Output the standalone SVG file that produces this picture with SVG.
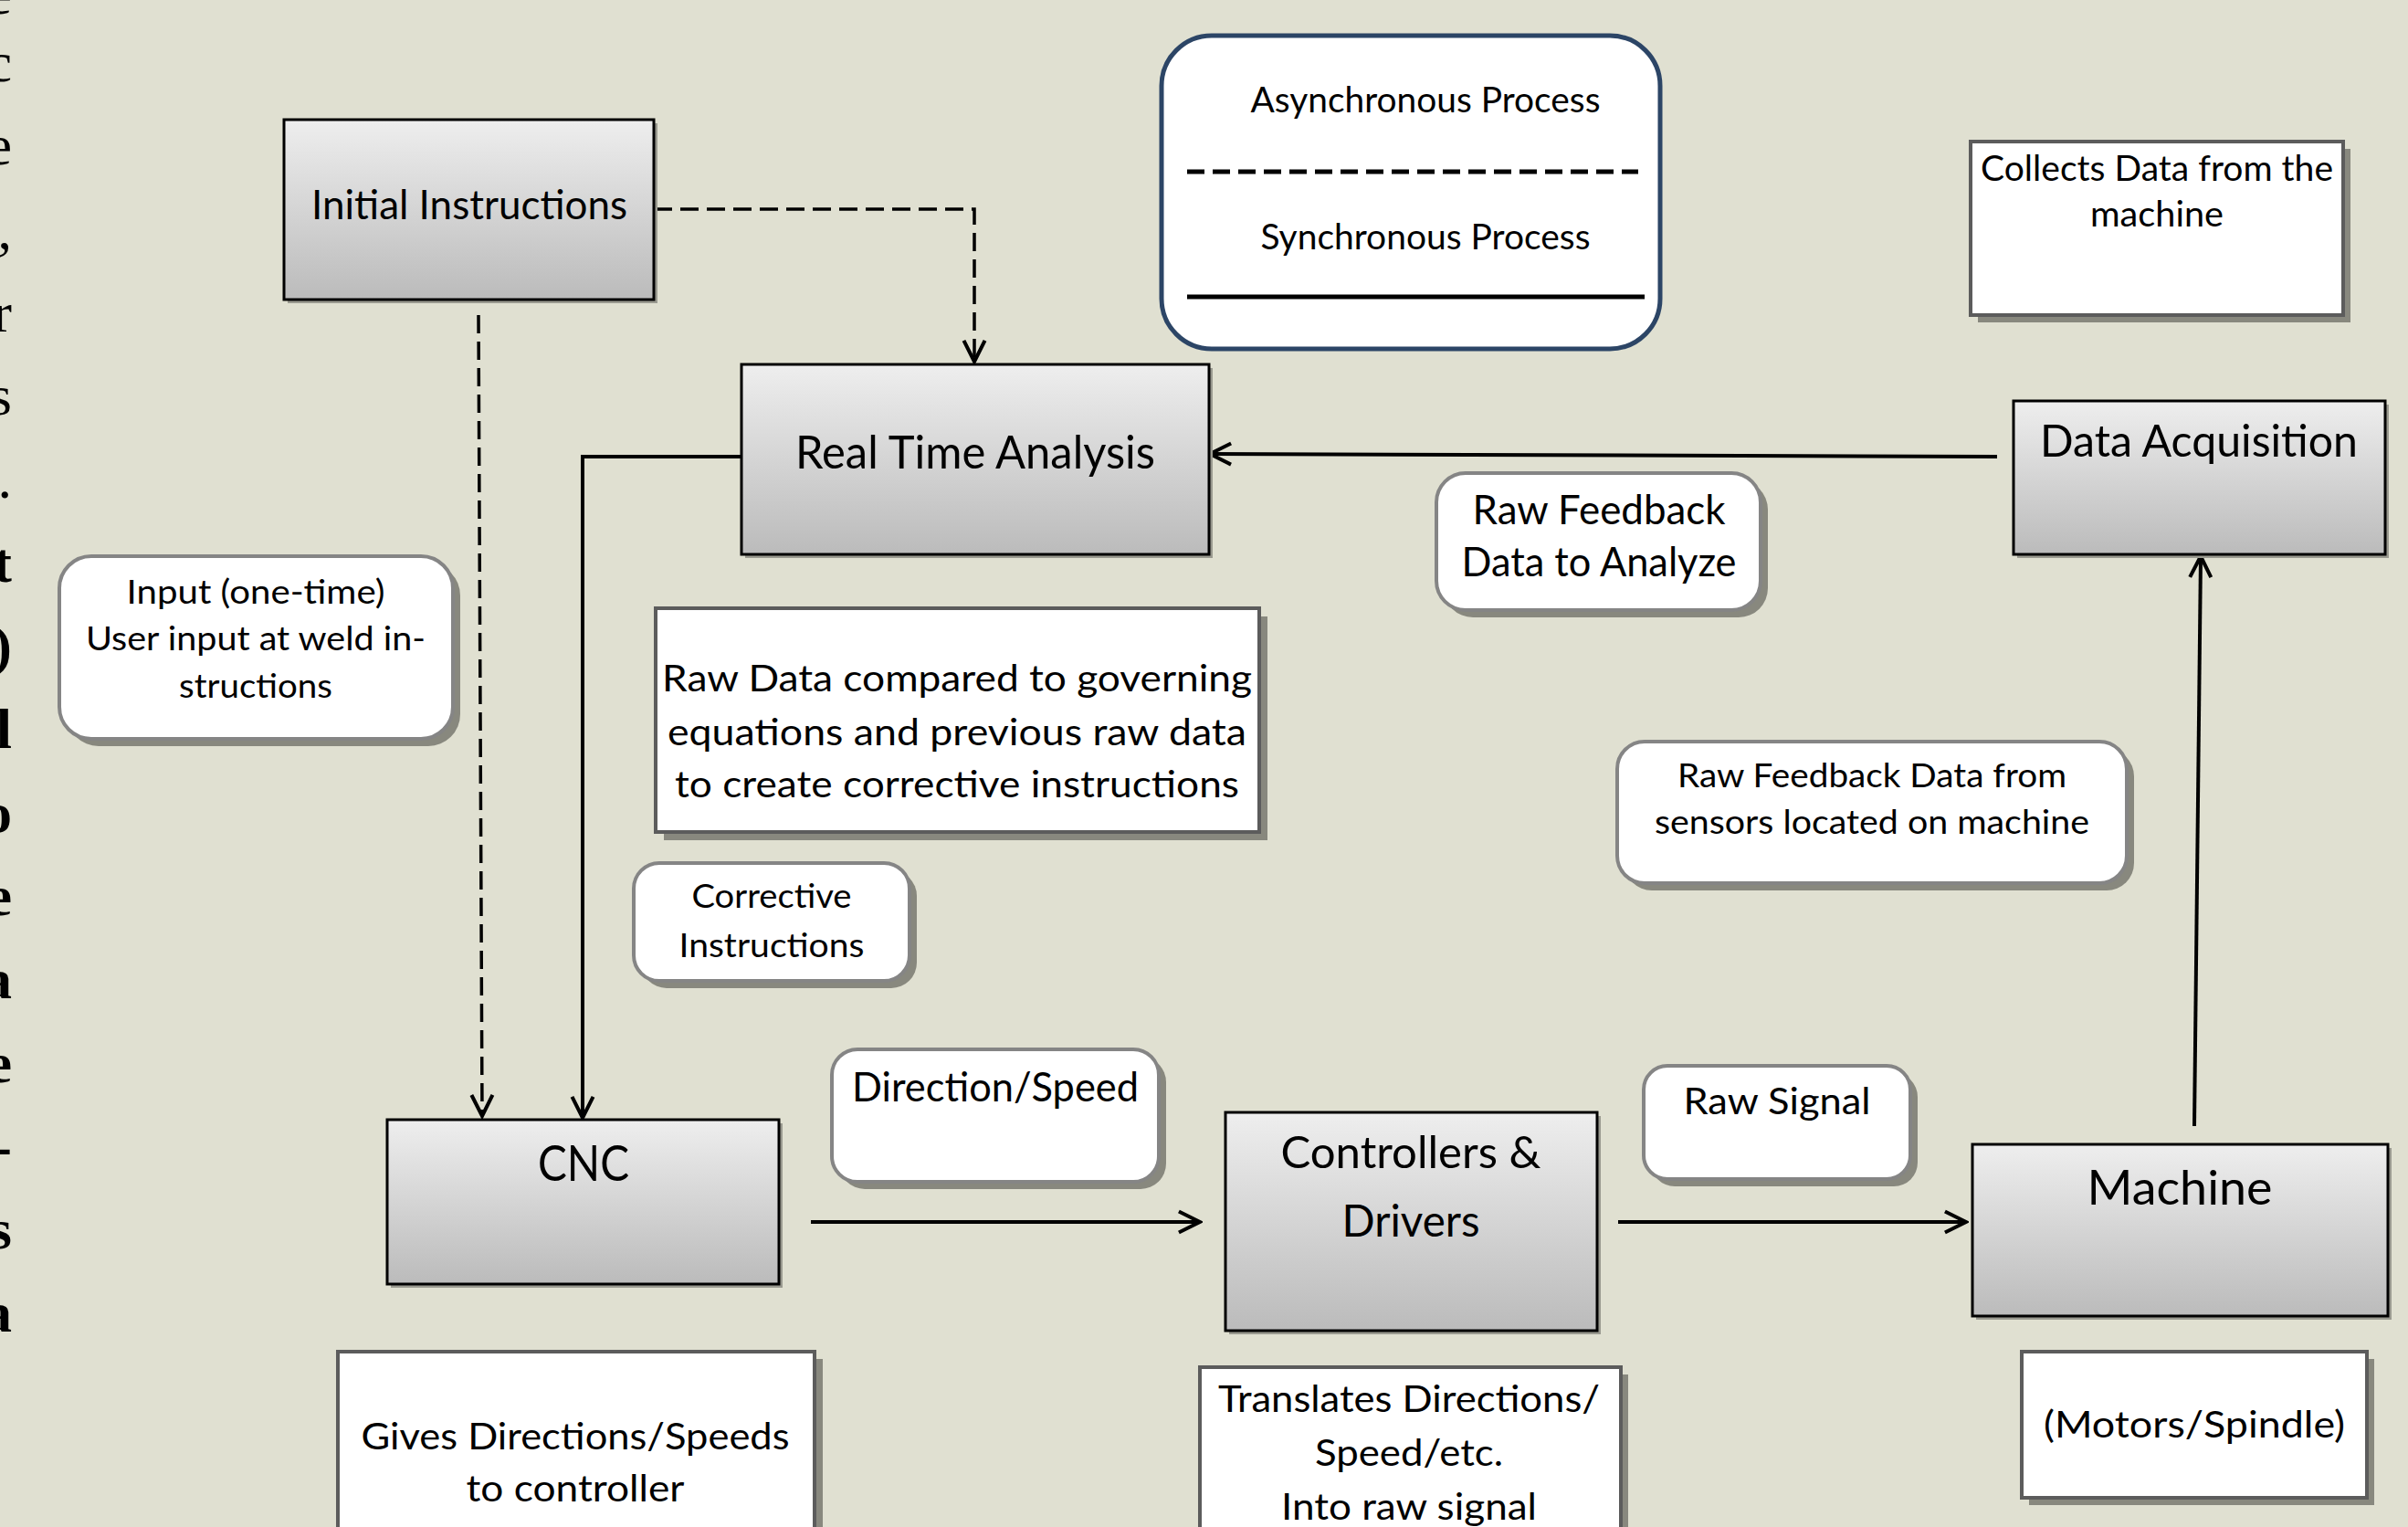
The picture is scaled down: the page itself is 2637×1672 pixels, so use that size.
<svg xmlns="http://www.w3.org/2000/svg" width="2637" height="1672" viewBox="0 0 2637 1672">
<defs>
<linearGradient id="grad" x1="0" y1="0" x2="0" y2="1">
<stop offset="0" stop-color="#eeeeee"/>
<stop offset="1" stop-color="#bbbbbb"/>
</linearGradient>
<marker id="arr" markerUnits="userSpaceOnUse" markerWidth="30" markerHeight="30" viewBox="-2 -2 26 26" refX="21" refY="11" orient="auto">
<path d="M1,1 L21,11 L1,21" fill="none" stroke="#000" stroke-width="3.5"/>
</marker>
<style>
.bg{fill:#e0e0d1}
.gb{fill:url(#grad);stroke:#000;stroke-width:3}
.gs{fill:#9a9a90}
.wb{fill:#fff;stroke:#5c5c5c;stroke-width:4}
.ws{fill:#88887e}
.rb{fill:#fff;stroke:#858585;stroke-width:4}
.t{font-family:Lato,"Liberation Sans",sans-serif;text-anchor:middle;fill:#000}
.edge{font-family:"Liberation Serif",serif;font-size:62px;text-anchor:end;fill:#000}
.c{fill:none;stroke:#000;stroke-width:4}
.d{fill:none;stroke:#000;stroke-width:3.5;stroke-dasharray:20 9}
</style>
</defs>
<rect class="bg" x="0" y="0" width="2637" height="1672"/>

<g id="page-edge-text">
<text class="edge" x="13" y="15">e</text>
<text class="edge" x="13" y="89">c</text>
<text class="edge" x="13" y="180">e</text>
<text class="edge" x="13" y="272">,</text>
<text class="edge" x="13" y="363">r</text>
<text class="edge" x="13" y="454">s</text>
<text class="edge" x="13" y="545">.</text>
<text class="edge" x="13" y="637" font-weight="bold">t</text>
<text class="edge" x="13" y="728" font-weight="bold">)</text>
<text class="edge" x="13" y="819" font-weight="bold">l</text>
<text class="edge" x="13" y="911" font-weight="bold">o</text>
<text class="edge" x="13" y="1002" font-weight="bold">e</text>
<text class="edge" x="13" y="1093" font-weight="bold">a</text>
<text class="edge" x="13" y="1185" font-weight="bold">e</text>
<text class="edge" x="13" y="1276" font-weight="bold">-</text>
<text class="edge" x="13" y="1367" font-weight="bold">s</text>
<text class="edge" x="13" y="1458" font-weight="bold">a</text>
</g>

<g id="connectors">
<path class="d" d="M716,229 H1067 V396" marker-end="url(#arr)"/>
<path class="d" d="M524,345 L528,1222" marker-end="url(#arr)"/>
<path class="c" d="M812,500 H638 V1224" marker-end="url(#arr)"/>
<path class="c" d="M888,1338 H1314" marker-end="url(#arr)"/>
<path class="c" d="M1772,1338 H2153" marker-end="url(#arr)"/>
<path class="c" d="M2403,1233 L2410,609" marker-end="url(#arr)"/>
<path class="c" d="M2187,500 L1325,497" marker-end="url(#arr)"/>
</g>

<g id="n-initial">
<rect class="gs" x="315" y="135" width="405" height="197"/>
<rect class="gb" x="311" y="131" width="405" height="197"/>
<text class="t" x="514" y="240" font-size="44" textLength="346" lengthAdjust="spacingAndGlyphs">Initial Instructions</text>
</g>

<g id="n-rta">
<rect class="gs" x="816" y="403" width="512" height="208"/>
<rect class="gb" x="812" y="399" width="512" height="208"/>
<text class="t" x="1068" y="513" font-size="50" textLength="394" lengthAdjust="spacingAndGlyphs">Real Time Analysis</text>
</g>

<g id="n-legend">
<rect x="1272" y="39" width="546" height="343" rx="55" ry="55" fill="#fff" stroke="#2c4566" stroke-width="5"/>
<text class="t" x="1561" y="123" font-size="38" textLength="383" lengthAdjust="spacingAndGlyphs">Asynchronous Process</text>
<line x1="1300" y1="188" x2="1794" y2="188" stroke="#000" stroke-width="5" stroke-dasharray="19 9"/>
<text class="t" x="1561" y="273" font-size="38" textLength="361" lengthAdjust="spacingAndGlyphs">Synchronous Process</text>
<line x1="1300" y1="325" x2="1801" y2="325" stroke="#000" stroke-width="5"/>
</g>

<g id="n-collects">
<rect class="ws" x="2166" y="163" width="408" height="190"/>
<rect class="wb" x="2158" y="155" width="408" height="190"/>
<text class="t" x="2362" y="198" font-size="38" textLength="386" lengthAdjust="spacingAndGlyphs">Collects Data from the</text>
<text class="t" x="2362" y="248" font-size="38" textLength="146" lengthAdjust="spacingAndGlyphs">machine</text>
</g>

<g id="n-daq">
<rect class="gs" x="2209" y="443" width="407" height="168"/>
<rect class="gb" x="2205" y="439" width="407" height="168"/>
<text class="t" x="2408" y="500" font-size="48" textLength="348" lengthAdjust="spacingAndGlyphs">Data Acquisition</text>
</g>

<g id="n-rawfb-analyze">
<rect class="ws" x="1581" y="526" width="355" height="150" rx="32"/>
<rect class="rb" x="1573" y="518" width="355" height="150" rx="32"/>
<text class="t" x="1751" y="574" font-size="45" textLength="277" lengthAdjust="spacingAndGlyphs">Raw Feedback</text>
<text class="t" x="1751" y="631" font-size="45" textLength="301" lengthAdjust="spacingAndGlyphs">Data to Analyze</text>
</g>

<g id="n-rawfb-sensors">
<rect class="ws" x="1779" y="820" width="558" height="155" rx="30"/>
<rect class="rb" x="1771" y="812" width="558" height="155" rx="30"/>
<text class="t" x="2050" y="862" font-size="37" textLength="426" lengthAdjust="spacingAndGlyphs">Raw Feedback Data from</text>
<text class="t" x="2050" y="913" font-size="37" textLength="476" lengthAdjust="spacingAndGlyphs">sensors located on machine</text>
</g>

<g id="n-input">
<rect class="ws" x="73" y="617" width="431" height="200" rx="35"/>
<rect class="rb" x="65" y="609" width="431" height="200" rx="35"/>
<text class="t" x="280" y="661" font-size="37" textLength="283" lengthAdjust="spacingAndGlyphs">Input (one-time)</text>
<text class="t" x="280" y="712" font-size="37" textLength="372" lengthAdjust="spacingAndGlyphs">User input at weld in-</text>
<text class="t" x="280" y="764" font-size="37" textLength="168" lengthAdjust="spacingAndGlyphs">structions</text>
</g>

<g id="n-rawdata">
<rect class="ws" x="727" y="675" width="661" height="245"/>
<rect class="wb" x="718" y="666" width="661" height="245"/>
<text class="t" x="1048" y="757" font-size="40" textLength="646" lengthAdjust="spacingAndGlyphs">Raw Data compared to governing</text>
<text class="t" x="1048" y="816" font-size="40" textLength="634" lengthAdjust="spacingAndGlyphs">equations and previous raw data</text>
<text class="t" x="1048" y="873" font-size="40" textLength="618" lengthAdjust="spacingAndGlyphs">to create corrective instructions</text>
</g>

<g id="n-corrective">
<rect class="ws" x="702" y="953" width="302" height="129" rx="28"/>
<rect class="rb" x="694" y="945" width="302" height="129" rx="28"/>
<text class="t" x="845" y="994" font-size="37" textLength="175" lengthAdjust="spacingAndGlyphs">Corrective</text>
<text class="t" x="845" y="1048" font-size="37" textLength="203" lengthAdjust="spacingAndGlyphs">Instructions</text>
</g>

<g id="n-direction">
<rect class="ws" x="919" y="1157" width="358" height="145" rx="28"/>
<rect class="rb" x="911" y="1149" width="358" height="145" rx="28"/>
<text class="t" x="1090" y="1206" font-size="44" textLength="314" lengthAdjust="spacingAndGlyphs">Direction/Speed</text>
</g>

<g id="n-cnc">
<rect class="gs" x="428" y="1230" width="429" height="180"/>
<rect class="gb" x="424" y="1226" width="429" height="180"/>
<text class="t" x="639" y="1293" font-size="55" textLength="100" lengthAdjust="spacingAndGlyphs">CNC</text>
</g>

<g id="n-controllers">
<rect class="gs" x="1346" y="1222" width="407" height="239"/>
<rect class="gb" x="1342" y="1218" width="407" height="239"/>
<text class="t" x="1545" y="1279" font-size="48" textLength="285" lengthAdjust="spacingAndGlyphs">Controllers &amp;</text>
<text class="t" x="1545" y="1354" font-size="48" textLength="151" lengthAdjust="spacingAndGlyphs">Drivers</text>
</g>

<g id="n-gives">
<rect class="ws" x="378" y="1488" width="523" height="200"/>
<rect class="wb" x="370" y="1480" width="522" height="200"/>
<text class="t" x="630" y="1587" font-size="40" textLength="469" lengthAdjust="spacingAndGlyphs">Gives Directions/Speeds</text>
<text class="t" x="630" y="1644" font-size="40" textLength="239" lengthAdjust="spacingAndGlyphs">to controller</text>
</g>

<g id="n-translates">
<rect class="ws" x="1322" y="1505" width="461" height="200"/>
<rect class="wb" x="1314" y="1497" width="461" height="200"/>
<text class="t" x="1543" y="1546" font-size="40" textLength="418" lengthAdjust="spacingAndGlyphs">Translates Directions/</text>
<text class="t" x="1543" y="1605" font-size="40" textLength="206" lengthAdjust="spacingAndGlyphs">Speed/etc.</text>
<text class="t" x="1543" y="1664" font-size="40" textLength="280" lengthAdjust="spacingAndGlyphs">Into raw signal</text>
</g>

<g id="n-rawsignal">
<rect class="ws" x="1808" y="1175" width="292" height="124" rx="26"/>
<rect class="rb" x="1800" y="1167" width="292" height="124" rx="26"/>
<text class="t" x="1946" y="1220" font-size="41" textLength="205" lengthAdjust="spacingAndGlyphs">Raw Signal</text>
</g>

<g id="n-machine">
<rect class="gs" x="2164" y="1257" width="455" height="188"/>
<rect class="gb" x="2160" y="1253" width="455" height="188"/>
<text class="t" x="2387" y="1319" font-size="53" textLength="203" lengthAdjust="spacingAndGlyphs">Machine</text>
</g>

<g id="n-motors">
<rect class="ws" x="2222" y="1488" width="378" height="160"/>
<rect class="wb" x="2214" y="1480" width="378" height="160"/>
<text class="t" x="2403" y="1574" font-size="41" textLength="330" lengthAdjust="spacingAndGlyphs">(Motors/Spindle)</text>
</g>
</svg>
